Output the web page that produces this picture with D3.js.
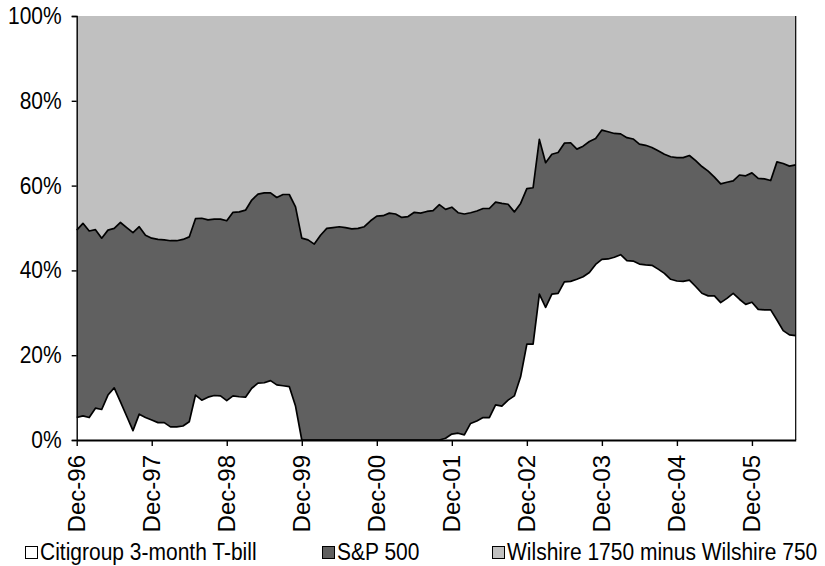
<!DOCTYPE html>
<html>
<head>
<meta charset="utf-8">
<script src="https://cdn.jsdelivr.net/npm/d3@7"></script>
<style>
  html, body { margin: 0; padding: 0; background: #fff; }
  svg { display: block; }
  text { font-family: Arial, "Liberation Sans", sans-serif; fill: #000; }
</style>
</head>
<body>
<svg id="chart" width="825" height="566"></svg>
<script>
// Monthly allocation weights (percent), Dec-96 through Jul-06
const tbill = [
  5.3, 5.7, 5.3, 7.5, 7.2, 10.6, 12.3, 9.0, 5.6, 2.2, 6.1, 5.3,
  4.7, 4.1, 4.1, 3.1, 3.1, 3.3, 4.3, 10.6, 9.4, 10.1, 10.5, 10.4,
  9.3, 10.4, 10.2, 10.1, 12.2, 13.4, 13.5, 14.0, 13.0, 12.8, 12.6, 8.0,
  0, 0, 0, 0, 0, 0, 0, 0, 0, 0, 0, 0,
  0, 0, 0, 0, 0, 0, 0, 0, 0, 0, 0, 0.4,
  1.4, 1.6, 1.2, 3.9, 4.5, 5.3, 5.3, 8.3, 8.0, 9.4, 10.4, 14.9,
  22.6, 22.6, 34.4, 31.3, 34.4, 34.6, 37.3, 37.4, 37.9, 38.5, 39.5, 41.4,
  42.6, 42.7, 43.1, 43.7, 42.3, 42.2, 41.5, 41.3, 41.2, 40.3, 39.3, 37.9,
  37.5, 37.4, 37.7, 36.2, 34.6, 34.0, 34.0, 32.4, 33.4, 34.6, 33.2, 32.0,
  32.5, 30.8, 30.7, 30.7, 28.3, 25.8, 24.8, 24.6
];
const sp500 = [
  44.2, 45.4, 44.0, 42.1, 40.4, 38.9, 37.6, 42.3, 44.5, 46.7, 44.2, 43.0,
  42.9, 43.2, 43.1, 43.9, 43.9, 44.0, 43.6, 41.6, 42.9, 41.8, 41.6, 41.7,
  42.4, 43.3, 43.6, 44.1, 44.4, 44.6, 44.8, 44.3, 44.2, 45.1, 45.3, 47.0,
  47.6, 47.2, 46.2, 48.3, 49.9, 50.1, 50.3, 50.1, 49.8, 49.9, 50.3, 51.7,
  52.8, 52.9, 53.5, 53.3, 52.5, 52.7, 53.7, 53.5, 53.9, 54.1, 55.5, 54.0,
  53.5, 52.0, 52.1, 49.7, 49.5, 49.3, 49.3, 47.8, 47.8, 46.2, 43.4, 40.9,
  36.7, 36.9, 36.5, 34.1, 33.0, 33.2, 32.7, 32.7, 30.7, 30.8, 30.9, 29.7,
  30.5, 30.0, 29.2, 28.5, 29.0, 28.8, 28.3, 28.2, 27.8, 27.9, 28.1, 28.9,
  29.1, 29.2, 29.4, 29.7, 29.9, 29.4, 28.0, 28.0, 27.4, 26.5, 29.3, 30.3,
  30.5, 30.9, 30.9, 30.5, 37.3, 39.4, 39.8, 40.3
];
const wilshire = [
  50.5, 48.9, 50.7, 50.4, 52.4, 50.5, 50.1, 48.7, 49.9, 51.1, 49.7, 51.7,
  52.4, 52.7, 52.8, 53.0, 53.0, 52.7, 52.1, 47.8, 47.7, 48.1, 47.9, 47.9,
  48.3, 46.3, 46.2, 45.8, 43.4, 42.0, 41.7, 41.7, 42.8, 42.1, 42.1, 45.0,
  52.4, 52.8, 53.8, 51.7, 50.1, 49.9, 49.7, 49.9, 50.2, 50.1, 49.7, 48.3,
  47.2, 47.1, 46.5, 46.7, 47.5, 47.3, 46.3, 46.5, 46.1, 45.9, 44.5, 45.6,
  45.1, 46.4, 46.7, 46.4, 46.0, 45.4, 45.4, 43.9, 44.2, 44.4, 46.2, 44.2,
  40.7, 40.5, 29.1, 34.6, 32.6, 32.2, 30.0, 29.9, 31.4, 30.7, 29.6, 28.9,
  26.9, 27.3, 27.7, 27.8, 28.7, 29.0, 30.2, 30.5, 31.0, 31.8, 32.6, 33.2,
  33.4, 33.4, 32.9, 34.1, 35.5, 36.6, 38.0, 39.6, 39.2, 38.9, 37.5, 37.7,
  37.0, 38.3, 38.4, 38.8, 34.4, 34.8, 35.4, 35.1
];

const seriesNames = ["Citigroup 3-month T-bill", "S&P 500", "Wilshire 1750 minus Wilshire 750"];
const seriesColors = ["#ffffff", "#606060", "#c0c0c0"];
const tickLabels = ["Dec-96", "Dec-97", "Dec-98", "Dec-99", "Dec-00", "Dec-01", "Dec-02", "Dec-03", "Dec-04", "Dec-05"];
const yTicks = [0, 0.2, 0.4, 0.6, 0.8, 1.0];

// Month categories
const fmt = d3.timeFormat("%b-%y");
const months = d3.timeMonth.range(new Date(1996, 11, 1), new Date(1996, 11 + tbill.length, 1)).map(fmt);

const rows = months.map((m, i) => ({ month: m, tbill: tbill[i], sp500: sp500[i], wilshire: wilshire[i] }));
const keys = ["tbill", "sp500", "wilshire"];
const stacked = d3.stack().keys(keys).offset(d3.stackOffsetExpand)(rows);

const margin = { left: 76.7, right: 29.3, top: 16, bottom: 126 };
const W = 825, H = 566;
const svg = d3.select("#chart");

const x = d3.scalePoint().domain(months).range([margin.left, W - margin.right]);
const y = d3.scaleLinear().domain([0, 1]).range([H - margin.bottom, margin.top]);

const area = d3.area()
  .x((d, i) => x(months[i]))
  .y0(d => y(d[0]))
  .y1(d => y(d[1]));

const line = d3.line()
  .x((d, i) => x(months[i]))
  .y(d => y(d[1]));

const g = svg.append("g");

// Filled bands
g.selectAll("path.band")
  .data(stacked)
  .join("path")
  .attr("class", "band")
  .attr("d", area)
  .attr("fill", (d, i) => seriesColors[i]);

// Boundary lines between bands
g.selectAll("path.edge")
  .data(stacked.slice(0, 2))
  .join("path")
  .attr("class", "edge")
  .attr("d", line)
  .attr("fill", "none")
  .attr("stroke", "#000")
  .attr("stroke-width", 1.7)
  .attr("stroke-linejoin", "round");

// Right edge of the areas
g.append("line")
  .attr("x1", x(months[months.length - 1])).attr("x2", x(months[months.length - 1]))
  .attr("y1", y(1)).attr("y2", y(0))
  .attr("stroke", "#000").attr("stroke-width", 1.2);

// Y axis
const yAxis = d3.axisLeft(y).tickValues(yTicks).tickFormat(d3.format(".0%")).tickSize(5).tickPadding(10);
const yg = svg.append("g").attr("transform", `translate(${margin.left},0)`).call(yAxis);
yg.select(".domain").attr("stroke", "#000").attr("stroke-width", 1.4);
yg.selectAll(".tick line").attr("stroke", "#000").attr("stroke-width", 1.4);
yg.selectAll(".tick text")
  .attr("font-size", 21)
  .attr("font-family", "Arial, 'Liberation Sans', sans-serif")
  .attr("fill", "#000")
  .attr("transform", "scale(1,1.12)");

// X axis
const xAxis = d3.axisBottom(x).tickValues(tickLabels).tickSize(6).tickSizeOuter(0).tickFormat(() => "");
const xg = svg.append("g").attr("transform", `translate(0,${y(0)})`).call(xAxis);
xg.select(".domain").attr("stroke", "#000").attr("stroke-width", 1.8);
xg.selectAll(".tick line").attr("stroke", "#000").attr("stroke-width", 1.4);
xg.selectAll(".tick").append("text")
  .attr("transform", "translate(7.8,15) rotate(-90)")
  .attr("text-anchor", "end")
  .attr("font-size", 24)
  .attr("fill", "#000")
  .text(d => d);

// Legend
const legendX = [25, 322, 492];
const legend = svg.append("g");
seriesNames.forEach((name, i) => {
  legend.append("rect")
    .attr("x", legendX[i] + 0.5).attr("y", 546.5)
    .attr("width", 12).attr("height", 12)
    .attr("fill", seriesColors[i]).attr("stroke", "#000").attr("stroke-width", 1);
  legend.append("text")
    .attr("transform", `translate(${legendX[i] + 15},560) scale(1,1.12)`)
    .attr("font-size", 21)
    .text(name);
});
</script>
</body>
</html>
